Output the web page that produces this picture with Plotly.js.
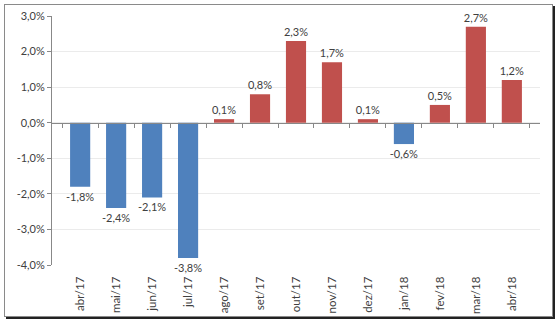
<!DOCTYPE html>
<html><head><meta charset="utf-8">
<script src="https://cdn.plot.ly/plotly-3.0.1.min.js"></script>
<style>
body{margin:0;padding:0;background:#fff;}
#wrap{position:relative;width:557px;height:322px;}
#chart{position:absolute;left:0;top:0;width:557px;height:322px;}
#frame{position:absolute;left:4px;top:4px;width:547px;height:311px;border:1px solid #8a8a8a;box-shadow:2px 2px 0 #222;pointer-events:none;}
</style></head>
<body>
<div id="wrap"><div id="chart"></div><div id="frame"></div></div>
<script>
const categories = ['abr/17','mai/17','jun/17','jul/17','ago/17','set/17','out/17','nov/17','dez/17','jan/18','fev/18','mar/18','abr/18'];
const values = [-1.8,-2.4,-2.1,-3.8,0.1,0.8,2.3,1.7,0.1,-0.6,0.5,2.7,1.2];
const yTicks = [3,2,1,0,-1,-2,-3,-4];
const yTickText = yTicks.map(v => v.toFixed(1).replace('.', ',') + '%');

const colors = values.map(v => v < 0 ? '#4F81BD' : '#C0504D');
const font = {family:'Lato, "Open Sans", sans-serif', size:11, color:'#404040'};
const xfont = {family:'Lato, "Open Sans", sans-serif', size:11.5, color:'#404040'};

const traces = [{
  type:'bar', x:categories, y:values,
  marker:{color:colors},
  texttemplate:'%{y:.1f}%', textposition:'outside', constraintext:'none',
  textfont:font, outsidetextfont:font, cliponaxis:false, hoverinfo:'skip'
},{
  type:'scatter', x:categories, y:values, xaxis:'x2', yaxis:'y',
  mode:'markers', marker:{opacity:0}, hoverinfo:'skip', showlegend:false
}];

const layout = {
  width:557, height:322,
  margin:{l:52, r:17, t:16, b:57},
  paper_bgcolor:'rgba(0,0,0,0)', plot_bgcolor:'#fff',
  separators:',.',
  showlegend:false,
  bargap:0.44,
  font:font,
  xaxis:{type:'category', tickangle:-90, showgrid:false, zeroline:false,
    showline:false, ticks:'outside', ticklen:6, tickcolor:'rgba(0,0,0,0)', tickfont:xfont},
  xaxis2:{type:'category', overlaying:'x', anchor:'free', position:4/7,
    showline:true, linecolor:'#888', linewidth:1, ticks:'outside', ticklen:4,
    tickcolor:'#888', tickson:'boundaries', showticklabels:false, showgrid:false,
    matches:'x'},
  yaxis:{range:[-4,3], tickvals:yTicks, ticktext:yTickText,
    showgrid:true, gridcolor:'#ebebeb', zeroline:false, showline:true,
    linecolor:'#888', ticks:'outside', ticklen:4, tickcolor:'#888', tickfont:font}
};
Plotly.newPlot('chart', traces, layout, {displayModeBar:false, staticPlot:true});
</script>
</body></html>
